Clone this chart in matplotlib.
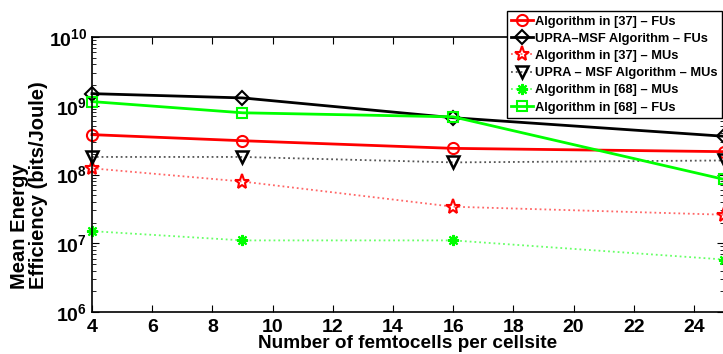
import numpy as np
import matplotlib.pyplot as plt

plt.rcParams['font.family'] = ['Liberation Sans', 'DejaVu Sans']
plt.rcParams['font.weight'] = 'bold'

# number of femtocells per cellsite
femtocells = [4, 9, 16, 25]

# mean energy efficiency (bits/Joule)
alg37_fu = [3.8e8, 3.1e8, 2.4e8, 2.15e8]
upra_fu = [1.5e9, 1.3e9, 6.7e8, 3.6e8]
alg37_mu = [1.23e8, 7.9e7, 3.4e7, 2.6e7]
upra_mu = [1.8e8, 1.8e8, 1.5e8, 1.6e8]
alg68_mu = [1.5e7, 1.1e7, 1.1e7, 5.8e6]
alg68_fu = [1.15e9, 7.9e8, 6.9e8, 8.5e7]

labels = ['Algorithm in [37] \u2013 FUs',
          'UPRA\u2013MSF Algorithm \u2013 FUs',
          'Algorithm in [37] \u2013 MUs',
          'UPRA \u2013 MSF Algorithm \u2013 MUs',
          'Algorithm in [68] \u2013 MUs',
          'Algorithm in [68] \u2013 FUs']

fig = plt.figure(figsize=(7.23, 3.54), dpi=100)
ax = fig.add_axes([92 / 723, 1 - 312 / 354, 632 / 723, 275 / 354])

ax.semilogy(femtocells, alg37_fu, color='r', lw=2, marker='o', ms=8,
            mfc='none', mew=1.5, label=labels[0], clip_on=False)
ax.semilogy(femtocells, upra_fu, color='k', lw=2, marker='D', ms=7.5,
            mfc='none', mew=1.5, label=labels[1], clip_on=False)
ax.semilogy(femtocells, alg37_mu, color='#ff6666', ls=':', lw=1.3, marker='*',
            ms=11, mfc='none', mec='r', mew=1.5, label=labels[2], clip_on=False)
ax.semilogy(femtocells, upra_mu, color='#555555', ls=':', lw=1.3, marker='v',
            ms=8.5, mfc='none', mec='k', mew=1.8, label=labels[3], clip_on=False)
ax.semilogy(femtocells, alg68_mu, color='#66ff66', ls=':', lw=1.3, marker=(8, 2, 0),
            ms=8, mec='#00ff00', mew=1.5, label=labels[4], clip_on=False)
ax.semilogy(femtocells, alg68_fu, color='#00ff00', lw=2, marker='s', ms=6.5,
            mfc='none', mew=1.5, label=labels[5], clip_on=False)

ax.set_xlim(4, 25)
ax.set_ylim(1e6, 1e10)
ax.set_xticks(np.arange(4, 25, 2))
ax.tick_params(axis='both', which='both', direction='in', top=True, right=True,
               labelsize=14)
ax.tick_params(axis='x', pad=5)
ax.tick_params(which='major', length=5)
ax.tick_params(which='minor', length=3)
for lab in ax.get_xticklabels() + ax.get_yticklabels():
    lab.set_fontweight('bold')
for sp in ax.spines.values():
    sp.set_linewidth(1.2)

ax.set_xlabel('Number of femtocells per cellsite', fontsize=13.7, fontweight='bold')
ax.xaxis.set_label_coords(0.5, -0.082)
ax.set_ylabel('Mean Energy\nEfficiency (bits/Joule)', fontsize=14.5,
              fontweight='bold', linespacing=1.05, multialignment='left')
ax.yaxis.set_label_coords(-0.069, 0.462)

leg = fig.legend(loc='upper right', bbox_to_anchor=(722 / 723, 1 - 11 / 354),
                 borderaxespad=0, prop={'size': 9.3, 'weight': 'bold'},
                 handlelength=1.7, handletextpad=0.15, labelspacing=0.4,
                 borderpad=0.35, fancybox=False, framealpha=1, edgecolor='k')
leg.get_frame().set_linewidth(1.0)

fig.savefig('out.png', dpi=100)
